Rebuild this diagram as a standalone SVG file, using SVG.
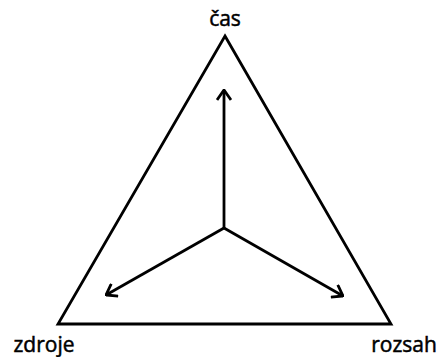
<svg xmlns="http://www.w3.org/2000/svg" width="440" height="357" viewBox="0 0 440 357">
<defs>
<style>
.ln{stroke:#000;stroke-width:2.8;fill:none;stroke-linejoin:miter}
.lbl{font-family:"Open Sans","Noto Sans",sans-serif;font-size:21px;fill:#000;stroke:#000;stroke-width:0.5}
</style>
<marker id="ah" viewBox="0 0 12 16" refX="11" refY="8" markerWidth="12" markerHeight="16" markerUnits="userSpaceOnUse" orient="auto">
<path d="M1,1 L11,8 L1,15" fill="none" stroke="#000" stroke-width="2.8"/>
</marker>
</defs>
<rect width="440" height="357" fill="#fff"/>
<g id="triangle"><path class="ln" d="M225,36 L391,324 L58,324 Z"/></g>
<g id="connectors">
<path class="ln" d="M224,228 L224,90" marker-end="url(#ah)"/>
<path class="ln" d="M224,228 L106,295" marker-end="url(#ah)"/>
<path class="ln" d="M224,228 L343,296" marker-end="url(#ah)"/>
</g>
<g id="cas"><text class="lbl" x="225" y="26" text-anchor="middle">čas</text></g>
<g id="zdroje"><text class="lbl" x="44" y="352" text-anchor="middle">zdroje</text></g>
<g id="rozsah"><text class="lbl" x="404" y="352" text-anchor="middle">rozsah</text></g>
</svg>
